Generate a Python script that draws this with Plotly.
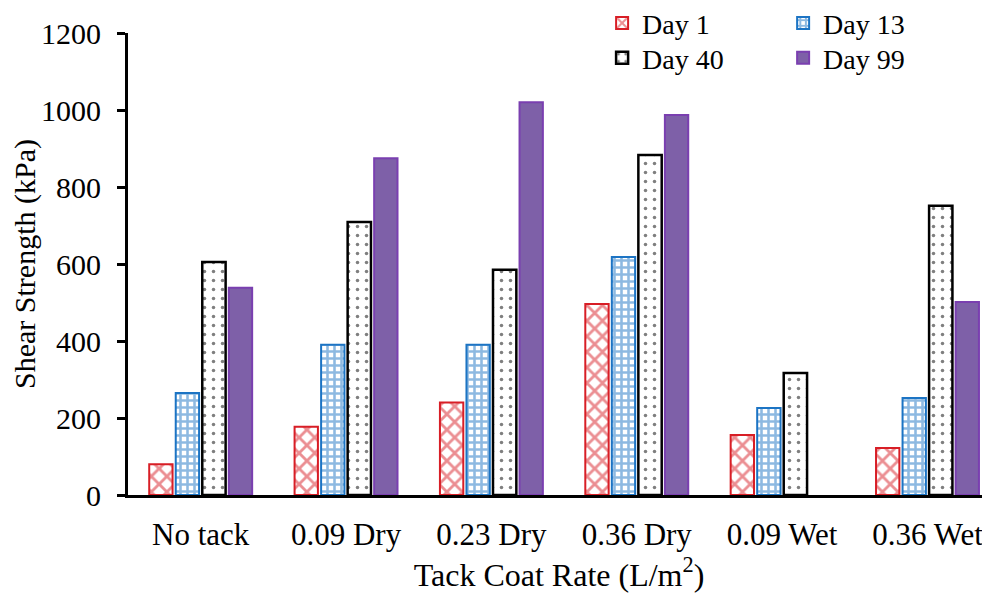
import plotly.graph_objects as go

categories = ["No tack", "0.09 Dry", "0.23 Dry", "0.36 Dry", "0.09 Wet", "0.36 Wet"]
day1 = [80, 177, 240, 496, 156, 122]
day13 = [265, 390, 390, 618, 226, 252]
day40 = [605, 709, 585, 883, 317, 751]
day99 = [538, 875, 1020, 987, None, 501]
y_ticks = [0, 200, 400, 600, 800, 1000, 1200]

FONT = "Liberation Serif"
RED = "#D81E26"
BLUE = "#1C74C4"

fig = go.Figure()
fig.add_trace(go.Bar(
    name="Day 1", x=categories, y=day1, legend="legend",
    marker=dict(color="white", line=dict(color=RED, width=2),
                pattern=dict(shape="x", fgcolor=RED, bgcolor="white", size=11, solidity=0.45)),
))
fig.add_trace(go.Bar(
    name="Day 13", x=categories, y=day13, legend="legend2",
    marker=dict(color="white", line=dict(color=BLUE, width=2),
                pattern=dict(shape="+", fgcolor=BLUE, bgcolor="white", size=7, solidity=0.6)),
))
fig.add_trace(go.Bar(
    name="Day 40", x=categories, y=day40, legend="legend3",
    marker=dict(color="white", line=dict(color="black", width=2.5),
                pattern=dict(shape=".", fgcolor="black", bgcolor="white", size=9, solidity=0.12)),
))
fig.add_trace(go.Bar(
    name="Day 99", x=categories, y=day99, legend="legend4",
    marker=dict(color="#7E60A8", line=dict(color="#7A3FB0", width=2)),
))

def leg(x, y):
    return dict(x=x, xanchor="left", y=y, yanchor="middle", orientation="v",
                font=dict(family=FONT, size=28, color="black"),
                bgcolor="rgba(0,0,0,0)", borderwidth=0)

# page body has an 8px margin: figure is sized/margined to compensate
fig.update_layout(
    width=982, height=587,
    margin=dict(l=120, r=0, t=25, b=100, autoexpand=False),
    paper_bgcolor="white", plot_bgcolor="white",
    barmode="group", bargap=0.27, bargroupgap=0.12,
    font=dict(family=FONT, color="black", size=30),
    showlegend=True,
    legend=leg(0.550, 1.021),
    legend2=leg(0.760, 1.021),
    legend3=leg(0.550, 0.946),
    legend4=leg(0.760, 0.946),
)
fig.update_xaxes(
    range=[-0.5, 5.43], showline=True, linecolor="black", linewidth=3,
    ticks="", showgrid=False, zeroline=False,
    tickfont=dict(family=FONT, size=31, color="black"),
    ticklabelstandoff=10,
    title=dict(text="Tack Coat Rate (L/m<sup>2</sup>)", font=dict(family=FONT, size=32, color="black"), standoff=6),
)
fig.update_yaxes(
    range=[0, 1200], tickvals=y_ticks, showline=True, linecolor="black", linewidth=3,
    ticks="outside", ticklen=8, tickwidth=2.5, tickcolor="black",
    showgrid=False, zeroline=False, ticklabelstandoff=10,
    tickfont=dict(family=FONT, size=30, color="black"),
    title=dict(text="Shear Strength (kPa)", font=dict(family=FONT, size=30, color="black"), standoff=6),
)

fig.write_html("out.html")
